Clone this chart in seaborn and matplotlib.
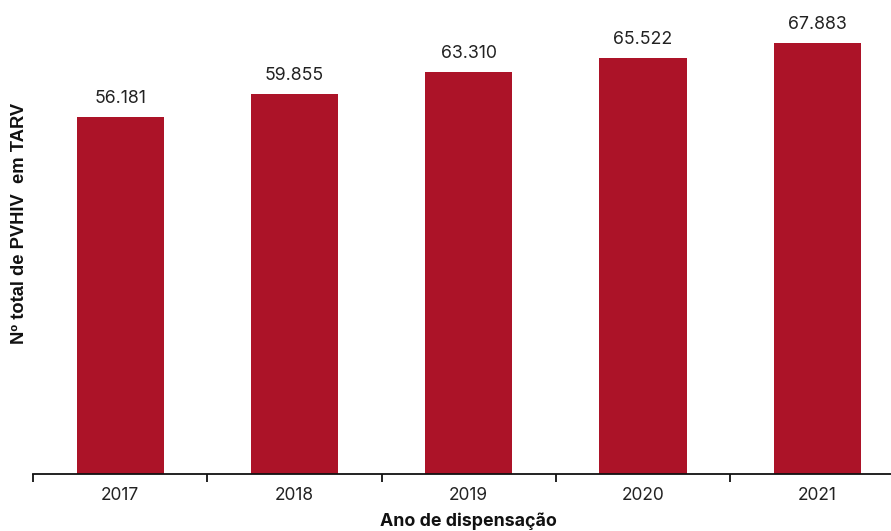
import matplotlib
matplotlib.use("Agg")
import matplotlib.pyplot as plt
import seaborn as sns
import pandas as pd
from matplotlib.ticker import FixedLocator

years = ["2017", "2018", "2019", "2020", "2021"]
patients = [56181, 59855, 63310, 65522, 67883]
value_labels = ["56.181", "59.855", "63.310", "65.522", "67.883"]

df = pd.DataFrame({"ano": years, "n": patients})

sns.set_theme(style="white")
plt.rcParams["font.family"] = ["Inter", "DejaVu Sans"]

W, H = 891, 531
fig = plt.figure(figsize=(W / 100, H / 100), dpi=100)
left, right, bottom, top = 33, 904.5, 474, 0
ax = fig.add_axes([left / W, 1 - bottom / H, (right - left) / W, (bottom - top) / H])

sns.barplot(data=df, x="ano", y="n", color="#AC1328", width=0.5, saturation=1,
            edgecolor="none", ax=ax)

ax.set_xlim(-0.5, 4.5)
ax.set_ylim(0, 74600)

for i, (v, lab) in enumerate(zip(patients, value_labels)):
    ax.annotate(lab, (i, v), xytext=(0, 7), textcoords="offset points",
                ha="center", va="bottom", fontsize=12.8, color="#222222")

for s in ["top", "right", "left"]:
    ax.spines[s].set_visible(False)
ax.spines["bottom"].set_color("#111111")
ax.spines["bottom"].set_linewidth(1.3)
ax.set_yticks([])

ax.tick_params(axis="x", which="major", length=0, labelsize=12.5, pad=9,
               labelcolor="#222222")
ax.xaxis.set_minor_locator(FixedLocator([-0.5, 0.5, 1.5, 2.5, 3.5, 4.5]))
ax.tick_params(axis="x", which="minor", bottom=True, length=6, width=1.3,
               color="#111111", direction="out")

ax.set_ylabel("")
ax.set_xlabel("")
fig.text(468 / W, 1 - 526 / H, "Ano de dispensação", ha="center",
         va="baseline", fontsize=12.8, fontweight="bold", color="#111111")

fig.text(20 / W, 1 - 223 / H, "Nº total de PVHIV  em TARV", rotation=90,
         ha="center", va="center", fontsize=13.2, fontweight="bold",
         family=["Liberation Sans", "DejaVu Sans"], color="#111111")

fig.savefig("out.png", dpi=100)
